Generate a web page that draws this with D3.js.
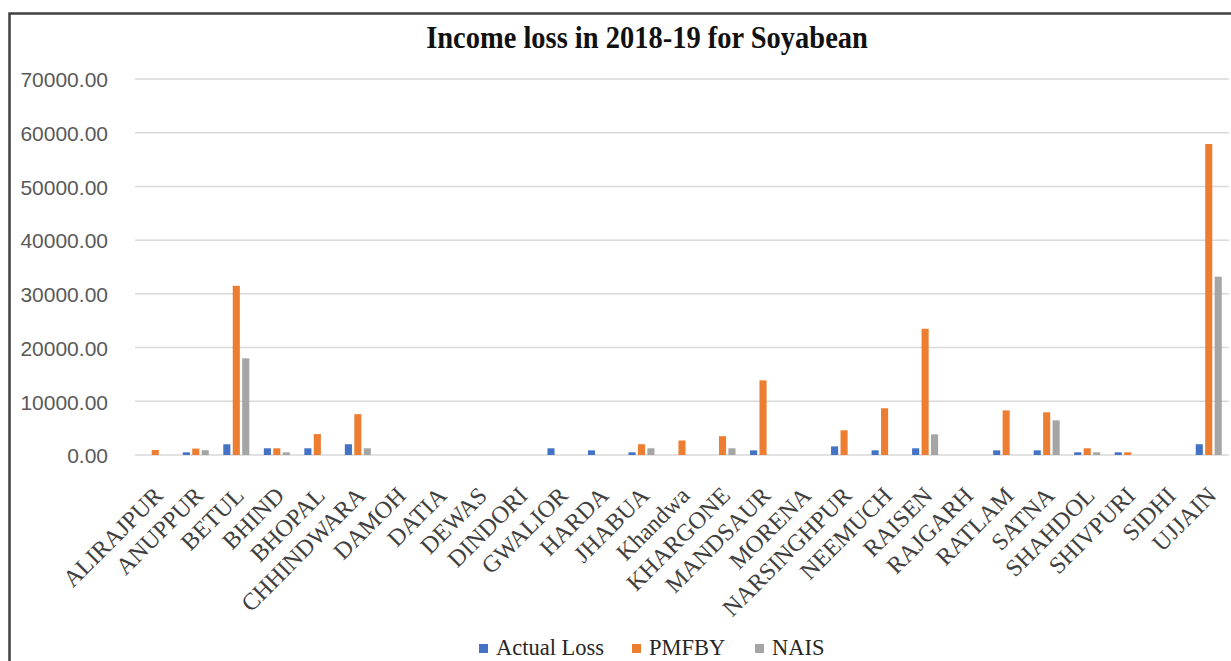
<!DOCTYPE html>
<html>
<head>
<meta charset="utf-8">
<script src="https://cdn.jsdelivr.net/npm/d3@7"></script>
<style>
  html, body { margin: 0; padding: 0; background: #fff; }
  svg { display: block; }
</style>
</head>
<body>
<svg id="chart" width="1231" height="661"></svg>
<script>
const categories = ["ALIRAJPUR","ANUPPUR","BETUL","BHIND","BHOPAL","CHHINDWARA","DAMOH","DATIA","DEWAS","DINDORI","GWALIOR","HARDA","JHABUA","Khandwa","KHARGONE","MANDSAUR","MORENA","NARSINGHPUR","NEEMUCH","RAISEN","RAJGARH","RATLAM","SATNA","SHAHDOL","SHIVPURI","SIDHI","UJJAIN"];
const seriesNames = ["Actual Loss","PMFBY","NAIS"];
const actualLoss = [0,500,2000,1250,1250,2000,0,0,0,0,1250,870,500,0,0,870,0,1600,870,1250,0,870,870,500,500,0,2000];
const pmfby      = [930,1200,31500,1250,3900,7600,0,0,0,0,0,0,2000,2700,3500,13900,0,4600,8700,23500,0,8300,7950,1250,500,0,57900];
const nais       = [0,900,18000,500,0,1250,0,0,0,0,0,0,1250,0,1250,0,0,0,0,3850,0,0,6450,500,0,0,33200];
const yTicks = [0,10000,20000,30000,40000,50000,60000,70000];
const colors = ["#4472C4","#ED7D31","#A5A5A5"];
const title = "Income loss in 2018-19 for Soyabean";

const svg = d3.select("#chart");
const seriesValues = [actualLoss, pmfby, nais];

const x0 = d3.scaleBand().domain(categories).range([135, 1229]).paddingInner(0).paddingOuter(0);
const x1 = d3.scaleBand().domain(seriesNames).range([-13, 13]).paddingInner(0.25);
const y = d3.scaleLinear().domain([0, 70000]).range([455, 79]);

// frame
svg.append("path").attr("d", "M9.5,700 L9.5,13.5 L1240,13.5")
  .attr("fill", "none").attr("stroke", "#404040").attr("stroke-width", 2.5);

// title
svg.append("text").attr("transform", "translate(647,48) scale(1,1.1)").attr("text-anchor", "middle")
  .attr("font-family", "'Liberation Serif', 'Times New Roman', serif").attr("font-weight", "bold")
  .attr("font-size", 28.5).attr("fill", "#111").text(title);

// gridlines
svg.append("g").selectAll("line").data(yTicks).join("line")
  .attr("x1", 135).attr("x2", 1229)
  .attr("y1", d => y(d)).attr("y2", d => y(d))
  .attr("stroke", "#d9d9d9").attr("stroke-width", 1.5);

// y axis labels
const yAxis = d3.axisLeft(y).tickValues(yTicks).tickFormat(d => d3.format(".2f")(d)).tickSize(0).tickPadding(0);
const yg = svg.append("g").attr("transform", "translate(108,0)").call(yAxis);
yg.select(".domain").remove();
yg.selectAll("text").attr("font-family", "'Liberation Sans', Arial, sans-serif").attr("font-size", 21).attr("fill", "#595959").attr("dy", "0.37em");

// bars
const groups = svg.append("g").selectAll("g").data(categories).join("g")
  .attr("transform", d => `translate(${x0(d) + x0.bandwidth()/2},0)`);
groups.selectAll("rect").data((c, i) => seriesNames.map((s, k) => ({s, k, v: seriesValues[k][i]})))
  .join("rect")
  .attr("x", d => x1(d.s)).attr("width", x1.bandwidth())
  .attr("y", d => y(d.v)).attr("height", d => y(0) - y(d.v))
  .attr("fill", d => colors[d.k]);

// category labels
const xg = svg.append("g");
xg.selectAll("text").data(categories).join("text")
  .attr("transform", d => `translate(${x0(d) + x0.bandwidth()/2 + 9},497) rotate(-45)`)
  .attr("text-anchor", "end")
  .attr("font-family", "'Liberation Serif', 'Times New Roman', serif")
  .attr("font-size", 24).attr("fill", "#404040").text(d => d);

// legend
const legendX = [479, 632, 755];
const lg = svg.append("g").selectAll("g").data(seriesNames).join("g")
  .attr("transform", (d, i) => `translate(${legendX[i]},0)`);
lg.append("rect").attr("x", 0).attr("y", 644).attr("width", 9).attr("height", 9).attr("fill", (d, i) => colors[i]);
lg.append("text").attr("x", 17).attr("y", 655)
  .attr("font-family", "'Liberation Serif', 'Times New Roman', serif")
  .attr("font-size", 22.5).attr("fill", "#262626").text(d => d);
</script>
</body>
</html>
